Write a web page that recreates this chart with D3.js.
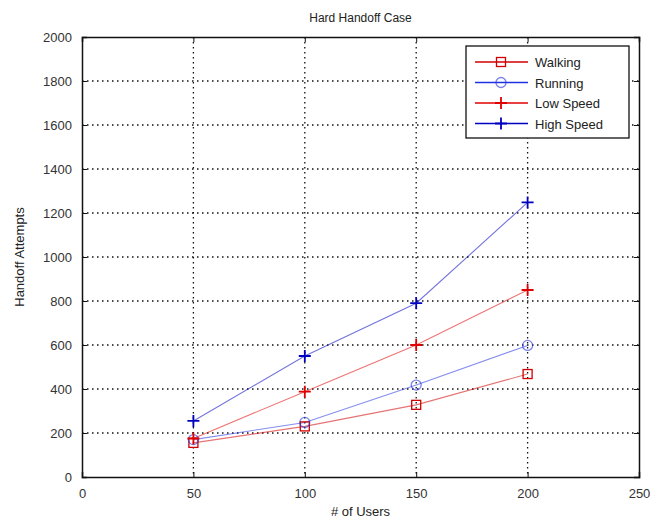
<!DOCTYPE html>
<html>
<head>
<meta charset="utf-8">
<script src="https://cdn.jsdelivr.net/npm/d3@7"></script>
<style>
  body { margin: 0; background: #fff; }
  text { font-family: "Liberation Sans", Arial, sans-serif; fill: #222; }
</style>
</head>
<body>
<div id="graph"></div>
<script>
// data
var users = [50, 100, 150, 200];
var walking = [155, 230, 328, 468];
var running = [170, 248, 418, 598];
var lowSpeed = [175, 388, 600, 850];
var highSpeed = [255, 550, 790, 1248];
var seriesNames = ["Walking", "Running", "Low Speed", "High Speed"];
var xTicks = [0, 50, 100, 150, 200, 250];
var yTicks = [0, 200, 400, 600, 800, 1000, 1200, 1400, 1600, 1800, 2000];

var series = [
  {name: seriesNames[0], values: walking, color: "#d00000", marker: "square"},
  {name: seriesNames[1], values: running, color: "#2030e0", marker: "circle"},
  {name: seriesNames[2], values: lowSpeed, color: "#e00000", marker: "plus"},
  {name: seriesNames[3], values: highSpeed, color: "#0000c0", marker: "plus"}
];

var margin = {top: 37, right: 27, bottom: 45, left: 82},
    width = 666 - margin.left - margin.right,
    height = 522 - margin.top - margin.bottom;

var x = d3.scaleLinear().domain([0, 250]).range([0, width]);
var y = d3.scaleLinear().domain([0, 2000]).range([height, 0]);

var svg = d3.select("#graph").append("svg")
    .attr("width", 666)
    .attr("height", 522)
  .append("g")
    .attr("transform", "translate(" + margin.left + "," + margin.top + ")");

// grid
svg.append("g").selectAll("line.gx")
    .data(xTicks.slice(1, -1))
  .enter().append("line")
    .attr("x1", function(d) { return x(d); })
    .attr("x2", function(d) { return x(d); })
    .attr("y1", 0).attr("y2", height)
    .style("stroke", "#111").style("stroke-width", 1.3)
    .style("stroke-dasharray", "1.5,3.5");
svg.append("g").selectAll("line.gy")
    .data(yTicks.slice(1, -1))
  .enter().append("line")
    .attr("y1", function(d) { return y(d); })
    .attr("y2", function(d) { return y(d); })
    .attr("x1", 0).attr("x2", width)
    .style("stroke", "#111").style("stroke-width", 1.3)
    .style("stroke-dasharray", "1.5,3.5");

// axes
svg.append("g")
    .attr("transform", "translate(0," + height + ")")
    .call(d3.axisBottom(x).tickValues(xTicks).tickFormat(d3.format("d")).tickSize(-5).tickPadding(12));
svg.append("g")
    .call(d3.axisLeft(y).tickValues(yTicks).tickFormat(d3.format("d")).tickSize(-5).tickPadding(10));
svg.append("g")
    .call(d3.axisTop(x).tickValues(xTicks).tickSize(-5).tickFormat(""));
svg.append("g")
    .attr("transform", "translate(" + width + ",0)")
    .call(d3.axisRight(y).tickValues(yTicks).tickSize(-5).tickFormat(""));
svg.selectAll(".domain").style("stroke", "#111").style("stroke-width", 1.5);
svg.selectAll(".tick line").style("stroke", "#111");
svg.selectAll(".tick text").style("font-size", "13px").style("fill", "#333");

// lines
var line = d3.line()
    .x(function(d, i) { return x(users[i]); })
    .y(function(d) { return y(d); });

series.forEach(function(s) {
  svg.append("path")
      .datum(s.values)
      .attr("d", line)
      .style("fill", "none")
      .style("stroke", s.color)
      .style("stroke-opacity", 0.55)
      .style("stroke-width", 1.1);
});

function drawMarker(g, s, cx, cy) {
  if (s.marker === "square") {
    g.append("rect").attr("x", cx - 4.5).attr("y", cy - 4.5)
      .attr("width", 9).attr("height", 9)
      .style("fill", "none").style("stroke", s.color).style("stroke-width", 1.3);
  } else if (s.marker === "circle") {
    g.append("circle").attr("cx", cx).attr("cy", cy).attr("r", 5)
      .style("fill", "none").style("stroke", s.color)
      .style("stroke-opacity", 0.6).style("stroke-width", 1.3);
  } else {
    g.append("path")
      .attr("d", "M" + (cx - 6) + "," + cy + "H" + (cx + 6) + "M" + cx + "," + (cy - 6) + "V" + (cy + 6))
      .style("stroke", s.color).style("stroke-width", 1.8);
  }
}

series.forEach(function(s) {
  var g = svg.append("g");
  s.values.forEach(function(v, i) { drawMarker(g, s, x(users[i]), y(v)); });
});

// title and labels
svg.append("text")
    .attr("x", width / 2).attr("y", -15)
    .attr("text-anchor", "middle")
    .style("font-size", "12px")
    .text("Hard Handoff Case");
svg.append("text")
    .attr("x", width / 2).attr("y", height + 39)
    .attr("text-anchor", "middle")
    .style("font-size", "13px")
    .text("# of Users");
svg.append("text")
    .attr("transform", "translate(-58," + (height / 2) + ") rotate(-90)")
    .attr("text-anchor", "middle")
    .style("font-size", "13px")
    .text("Handoff Attempts");

// legend
var lg = svg.append("g").attr("transform", "translate(" + (466 - margin.left) + "," + (46 - margin.top) + ")");
lg.append("rect").attr("width", 163).attr("height", 92)
    .style("fill", "#fff").style("stroke", "#111").style("stroke-width", 1.3);
series.forEach(function(s, i) {
  var ly = 16 + i * 20.5;
  lg.append("line").attr("x1", 9).attr("x2", 62).attr("y1", ly).attr("y2", ly)
      .style("stroke", s.color).style("stroke-width", 1.3);
  drawMarker(lg, s, 35, ly);
  lg.append("text").attr("x", 69).attr("y", ly + 5)
      .style("font-size", "13px")
      .text(s.name);
});
</script>
</body>
</html>
